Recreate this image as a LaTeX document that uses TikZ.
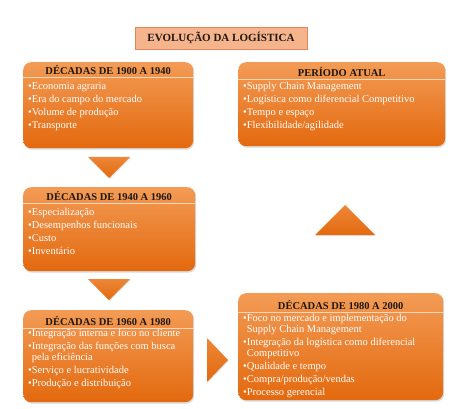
\documentclass[tikz,border=0pt]{standalone}
\usepackage{fontspec}
\setmainfont{Liberation Serif}
\usetikzlibrary{calc,shadows}
\definecolor{boxtop}{HTML}{F39B55}
\definecolor{boxbot}{HTML}{E3690E}
\definecolor{titlefill}{HTML}{F6B48C}
\definecolor{titleline}{HTML}{E2845C}
\definecolor{headtxt}{HTML}{1E1712}

\begin{document}
\begin{tikzpicture}[x=1pt,y=-1pt,
  card/.style={rounded corners=8pt,top color=boxtop,bottom color=boxbot,
    drop shadow={opacity=0.3,shadow xshift=1pt,shadow yshift=-1.5pt},
    anchor=north west,inner sep=0pt},
  head/.style={font=\fontsize{10.5}{12}\selectfont\bfseries,text=headtxt},
  items/.style={font=\fontsize{10.5}{10.5}\selectfont,text=white,
    align=left,anchor=north west,inner sep=0pt},
  sep/.style={draw=white!60!boxtop,line width=0.6pt},
  tri/.style={top color=boxtop!60!boxbot,bottom color=boxbot,
    drop shadow={opacity=0.2,shadow xshift=0.8pt,shadow yshift=-1pt}}]
  \useasboundingbox (0,0) rectangle (474,409);

  % title
  \node[draw=titleline,fill=titlefill,minimum width=172pt,minimum height=22pt,
    font=\fontsize{11}{12}\selectfont\bfseries,text=headtxt] (titulo) at (221,38)
    {EVOLUÇÃO DA LOGÍSTICA};

  % left column: 1900 -> 1940 -> 1960
  \node[card,minimum width=170pt,minimum height=86pt] (d1900) at (23,62) {};
  \node[head] (h1900) at ($(d1900.north)+(0,8)$) {DÉCADAS DE 1900 A 1940};
  \draw[sep] ([yshift=-15pt]d1900.north west) -- ([yshift=-15pt]d1900.north east);
  \node[items] (i1900) at (28,82.5) {•Economia agraria\\[2.3pt]
    •Era do campo do mercado\\[2.3pt]
    •Volume de produção\\[2.3pt]
    •Transporte};

  \node[card,minimum width=172pt,minimum height=84pt] (d1940) at (23,187) {};
  \node[head] (h1940) at ($(d1940.north)+(0,9)$) {DÉCADAS DE 1940 A 1960};
  \draw[sep] ([yshift=-16pt]d1940.north west) -- ([yshift=-16pt]d1940.north east);
  \node[items] (i1940) at (28,208.5) {•Especialização\\[2.3pt]
    •Desempenhos funcionais\\[2.3pt]
    •Custo\\[2.3pt]
    •Inventário};

  \node[card,minimum width=170pt,minimum height=92pt] (d1960) at (23,310) {};
  \node[head] (h1960) at ($(d1960.north)+(0,11)$) {DÉCADAS DE 1960 A 1980};
  \draw[sep] ([yshift=-18pt]d1960.north west) -- ([yshift=-18pt]d1960.north east);
  \node[items] (i1960) at (28,328.5) {•Integração interna e foco no cliente\\[3pt]
    •Integração das funções com busca\\
    \phantom{•}pela eficiência\\[3pt]
    •Serviço e lucratividade\\[2.3pt]
    •Produção e distribuição};

  % right column: 1980 -> atual
  \node[card,minimum width=205pt,minimum height=107pt] (d1980) at (238,293) {};
  \node[head] (h1980) at ($(d1980.north)+(0,12)$) {DÉCADAS DE 1980 A 2000};
  \draw[sep] ([yshift=-19pt]d1980.north west) -- ([yshift=-19pt]d1980.north east);
  \node[items] (i1980) at (243,314.5) {•Foco no mercado e implementação do\\
    \phantom{•}Supply Chain Management\\[3pt]
    •Integração da logística como diferencial\\
    \phantom{•}Competitivo\\[3pt]
    •Qualidade e tempo\\[2.3pt]
    •Compra/produção/vendas\\[2.3pt]
    •Processo gerencial};

  \node[card,minimum width=207pt,minimum height=84pt] (atual) at (238,62) {};
  \node[head] (hatual) at ($(atual.north)+(0,10)$) {PERÍODO ATUAL};
  \draw[sep] ([yshift=-17pt]atual.north west) -- ([yshift=-17pt]atual.north east);
  \node[items] (iatual) at (243,82.5) {•Supply Chain Management\\[2.3pt]
    •Logística como diferencial Competitivo\\[2.3pt]
    •Tempo e espaço\\[2.3pt]
    •Flexibilidade/agilidade};

  % arrows between the periods
  \path[tri] (88,157) -- (130,157) -- (109,178) -- cycle;
  \path[tri] (88,279) -- (130,279) -- (109,300) -- cycle;
  \path[tri] (207,338) -- (228,360) -- (207,382) -- cycle;
  \path[tri] (315,235) -- (345,205) -- (375,235) -- cycle;
\end{tikzpicture}
\end{document}
